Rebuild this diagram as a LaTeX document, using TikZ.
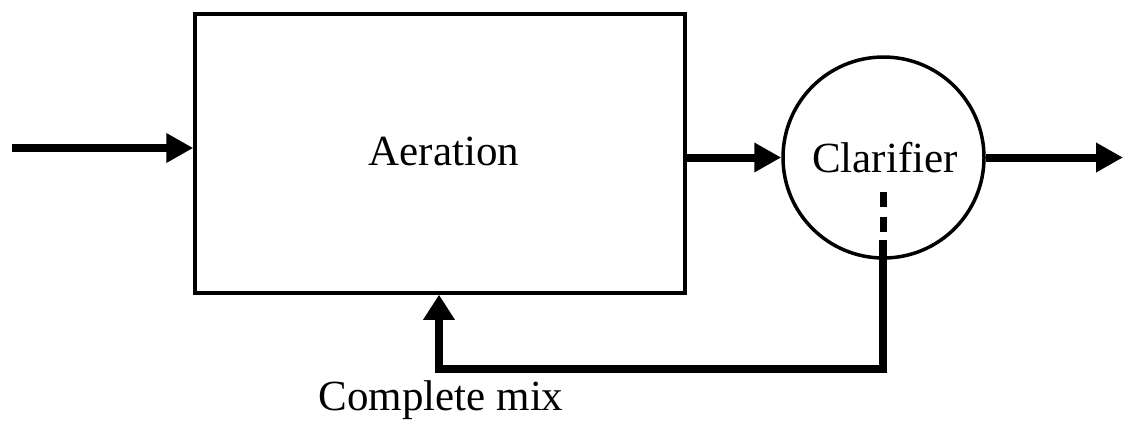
\documentclass[tikz,border=0pt]{standalone}
\usepackage{fontspec}
\setmainfont{Liberation Serif}
\usetikzlibrary{arrows.meta}
\begin{document}
\begin{tikzpicture}[x=1pt,y=-1pt,
  box/.style={draw,line width=3.5pt,inner sep=0pt},
  flow/.style={line width=8pt,-{Triangle[length=27pt,width=28pt]}},
  lbl/.style={font=\fontsize{43}{50}\selectfont,inner sep=0pt,anchor=base}]
\useasboundingbox (0,0) rectangle (1124,429);
\node[box,minimum width=490pt,minimum height=279pt] (aer) at (440,153.5) {};
\node[box,circle,minimum size=201pt] (clar) at (883.5,157.5) {};
\node[lbl] (aert) at (444,165) {Aeration};
\node[lbl] (clart) at (885,172) {Clarifier};
\node[lbl] (mix) at (441,410) {Complete mix};
\coordinate (in) at (12,148);
\coordinate (out) at (1123,159);
\coordinate (d1) at (883,192);
\coordinate (d2) at (883,233);
\coordinate (s1) at (883,240);
\coordinate (c1) at (883,369);
\coordinate (c2) at (439,369);
\draw[flow] (in) -- (in -| aer.west);
\draw[flow] (clar.west -| aer.east) -- (clar.west);
\draw[flow] (clar.east) -- (clar.east -| out);
\draw[line width=7pt,dash pattern=on 15pt off 10pt] (d1) -- (d2);
\draw[flow,-{Triangle[length=25pt,width=30pt]}] (s1) -- (c1) -- (c2) -- (c2 |- aer.south);
\end{tikzpicture}
\end{document}
